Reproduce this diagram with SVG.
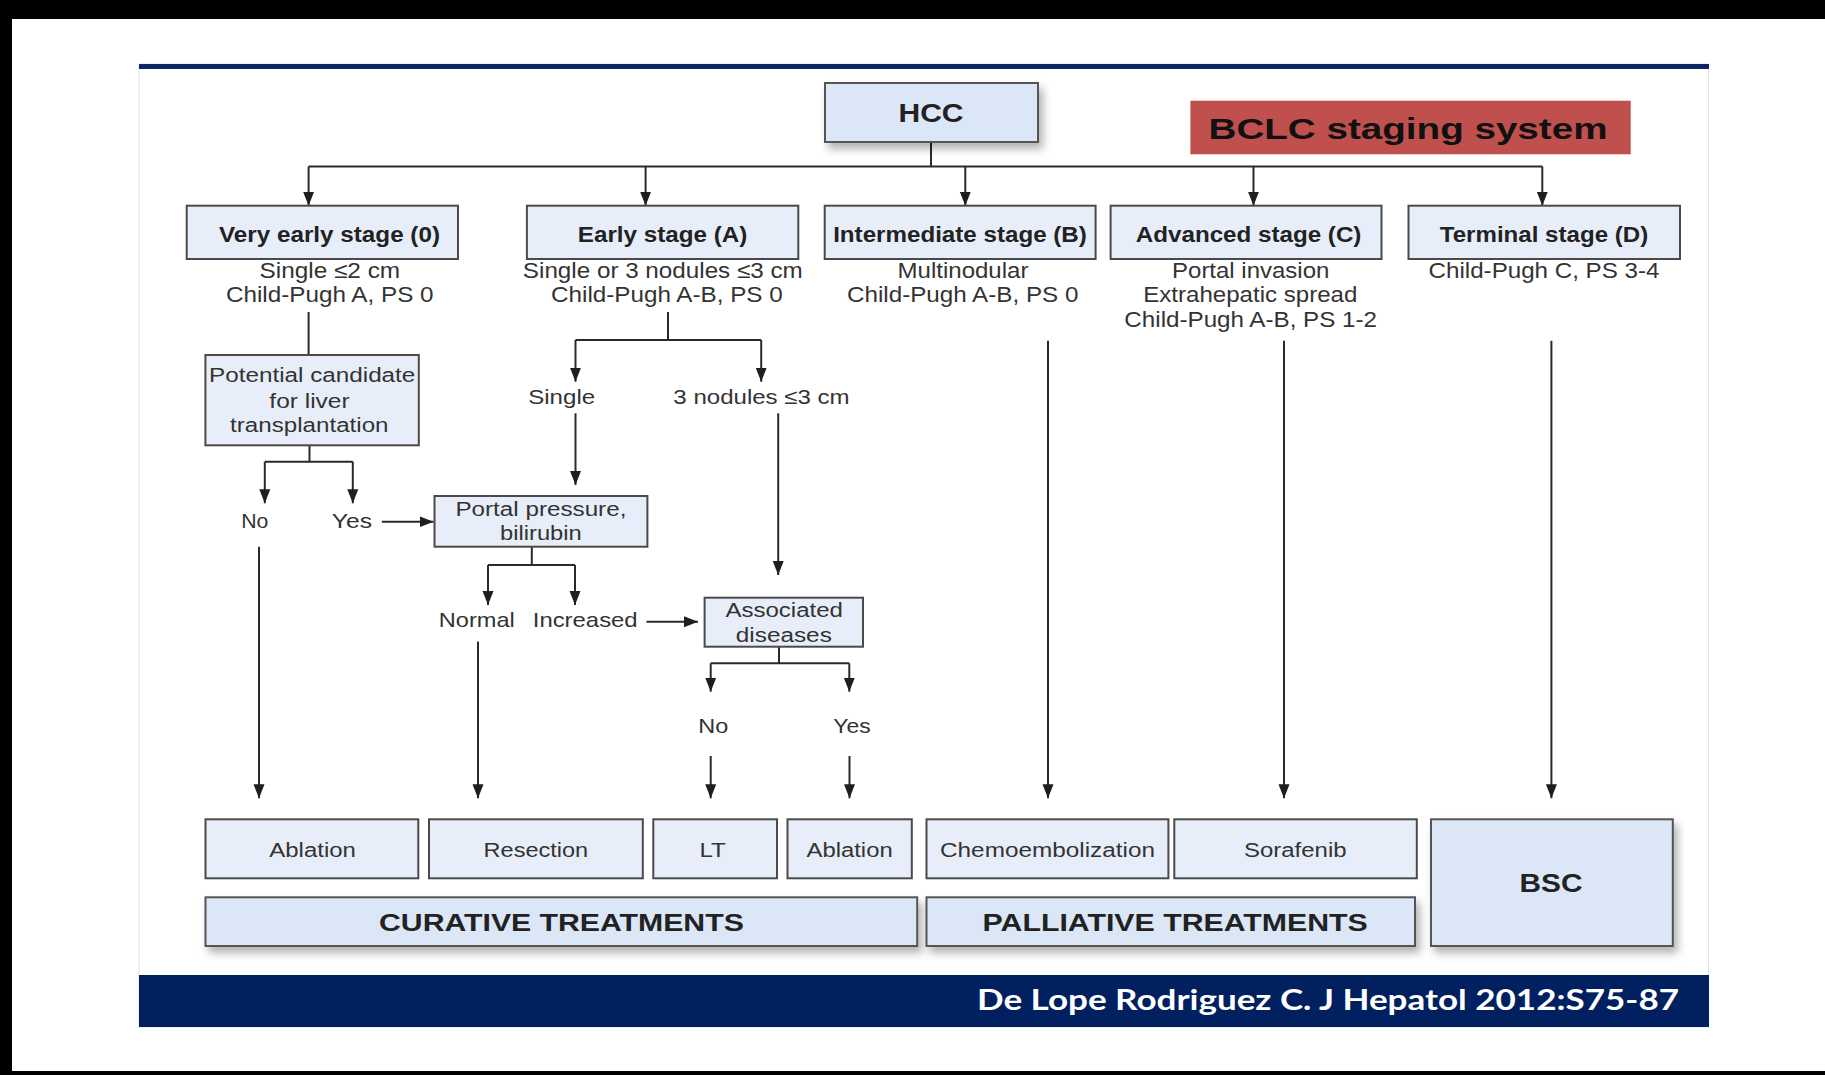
<svg xmlns="http://www.w3.org/2000/svg" width="1825" height="1075" viewBox="0 0 1825 1075">
<style>
.t{font-family:"Liberation Sans",Arial,sans-serif;fill:#333;text-anchor:middle}
.b{font-weight:bold;fill:#222}
.box{fill:#e7eef9;stroke:#4a4a4a;stroke-width:2}
.boxd{fill:#dbe6f6;stroke:#555;stroke-width:2}
.ln{stroke:#2a2a2a;stroke-width:2;fill:none}
.ar{stroke:#2a2a2a;stroke-width:2;fill:none;marker-end:url(#ah)}
</style>
<defs>
<marker id="ah" markerUnits="userSpaceOnUse" markerWidth="14" markerHeight="12" refX="14" refY="6" orient="auto">
<path d="M0,0.5 L14,6 L0,11.5 z" fill="#1e1e1e"/>
</marker>
<filter id="sh" x="-10%" y="-10%" width="130%" height="140%">
<feDropShadow dx="4" dy="6" stdDeviation="4" flood-color="#000" flood-opacity="0.3"/>
</filter>
</defs>
<rect x="0" y="0" width="1825" height="1075" fill="#fff"/>
<rect x="0" y="0" width="1825" height="19" fill="#000"/>
<rect x="0" y="0" width="12" height="1075" fill="#000"/>
<rect x="0" y="1071" width="1825" height="4" fill="#000"/>
<rect x="139" y="64" width="1569.5" height="963" fill="none" stroke="#dde1ea" stroke-width="1"/>
<rect x="139" y="64" width="1570" height="5" fill="#0d2766"/>
<rect x="139" y="975" width="1570" height="52" fill="#002060"/>
<text x="1679" y="1010" font-family="Lato,'Open Sans',sans-serif" font-weight="bold" font-size="29" fill="#fff" text-anchor="end" textLength="702" lengthAdjust="spacingAndGlyphs">De Lope Rodriguez C. J Hepatol 2012:S75-87</text>

<g id="connectors">
<path class="ln" d="M931,142 V166.5 M308.6,166.5 H1542.3"/>
<path class="ar" d="M308.6,166.5 V205.7"/>
<path class="ar" d="M645.6,166.5 V205.7"/>
<path class="ar" d="M965.3,166.5 V205.7"/>
<path class="ar" d="M1253.5,166.5 V205.7"/>
<path class="ar" d="M1542.3,166.5 V205.7"/>
<path class="ln" d="M308.6,312 V355"/>
<path class="ln" d="M309.5,445.3 V461.7 M264.8,461.7 H352.8"/>
<path class="ar" d="M264.8,461.7 V503.3"/>
<path class="ar" d="M352.8,461.7 V503.3"/>
<path class="ar" d="M381.8,521.7 H433.5"/>
<path class="ln" d="M668,312 V340 M575.5,340 H761.2"/>
<path class="ar" d="M575.5,340 V381.7"/>
<path class="ar" d="M761.2,340 V381.7"/>
<path class="ar" d="M575.5,413.3 V485"/>
<path class="ar" d="M778.2,413.3 V575"/>
<path class="ln" d="M531.8,546.7 V565 M488,565 H575"/>
<path class="ar" d="M488,565 V605"/>
<path class="ar" d="M575,565 V605"/>
<path class="ar" d="M646.5,621.7 H698"/>
<path class="ln" d="M779,646.7 V663.3 M710.7,663.3 H849.3"/>
<path class="ar" d="M710.7,663.3 V691.7"/>
<path class="ar" d="M849.3,663.3 V691.7"/>
<path class="ar" d="M710.7,756 V798.3"/>
<path class="ar" d="M849.5,756 V798.3"/>
<path class="ar" d="M259,546.7 V798.3"/>
<path class="ar" d="M478,641.5 V798.3"/>
<path class="ar" d="M1048,340.7 V798.3"/>
<path class="ar" d="M1284,340.7 V798.3"/>
<path class="ar" d="M1551.4,340.7 V798.3"/>
</g>

<g id="hcc">
<rect class="boxd" x="825" y="83" width="213" height="59" filter="url(#sh)"/>
<text class="t b" x="931" y="122.3" font-size="26" textLength="65" lengthAdjust="spacingAndGlyphs">HCC</text>
</g>
<g id="title">
<rect x="1190.4" y="100.7" width="440.3" height="53.6" fill="#c0504d"/>
<text class="t b" x="1408" y="139.3" font-size="29" fill="#111" style="fill:#111" textLength="399" lengthAdjust="spacingAndGlyphs">BCLC staging system</text>
</g>

<g id="stage0">
<rect class="box" x="186.7" y="205.7" width="271.3" height="53.3"/>
<text class="t b" x="329.5" y="241.7" font-size="22" textLength="221" lengthAdjust="spacingAndGlyphs">Very early stage (0)</text>
<text class="t" x="329.8" y="278.3" font-size="22" textLength="140.6" lengthAdjust="spacingAndGlyphs">Single ≤2 cm</text>
<text class="t" x="329.8" y="302.3" font-size="22" textLength="207.6" lengthAdjust="spacingAndGlyphs">Child-Pugh A, PS 0</text>
</g>
<g id="stageA">
<rect class="box" x="526.9" y="205.7" width="271.4" height="53.3"/>
<text class="t b" x="662.6" y="241.7" font-size="22" textLength="169.6" lengthAdjust="spacingAndGlyphs">Early stage (A)</text>
<text class="t" x="662.8" y="278.3" font-size="22" textLength="279.9" lengthAdjust="spacingAndGlyphs">Single or 3 nodules ≤3 cm</text>
<text class="t" x="666.9" y="302.3" font-size="22" textLength="231.7" lengthAdjust="spacingAndGlyphs">Child-Pugh A-B, PS 0</text>
</g>
<g id="stageB">
<rect class="box" x="824.7" y="205.7" width="270.9" height="53.3"/>
<text class="t b" x="960" y="241.7" font-size="22" textLength="253.7" lengthAdjust="spacingAndGlyphs">Intermediate stage (B)</text>
<text class="t" x="963" y="278.3" font-size="22" textLength="130.9" lengthAdjust="spacingAndGlyphs">Multinodular</text>
<text class="t" x="962.7" y="302.3" font-size="22" textLength="231.4" lengthAdjust="spacingAndGlyphs">Child-Pugh A-B, PS 0</text>
</g>
<g id="stageC">
<rect class="box" x="1110.6" y="205.7" width="270.9" height="53.3"/>
<text class="t b" x="1248.6" y="241.7" font-size="22" textLength="225.6" lengthAdjust="spacingAndGlyphs">Advanced stage (C)</text>
<text class="t" x="1250.7" y="278.3" font-size="22" textLength="157.3" lengthAdjust="spacingAndGlyphs">Portal invasion</text>
<text class="t" x="1250.3" y="302.3" font-size="22" textLength="214.1" lengthAdjust="spacingAndGlyphs">Extrahepatic spread</text>
<text class="t" x="1250.7" y="326.7" font-size="22" textLength="252.7" lengthAdjust="spacingAndGlyphs">Child-Pugh A-B, PS 1-2</text>
</g>
<g id="stageD">
<rect class="box" x="1408.5" y="205.7" width="271.5" height="53.3"/>
<text class="t b" x="1544" y="241.7" font-size="22" textLength="208.4" lengthAdjust="spacingAndGlyphs">Terminal stage (D)</text>
<text class="t" x="1544" y="278.3" font-size="22" textLength="230.8" lengthAdjust="spacingAndGlyphs">Child-Pugh C, PS 3-4</text>
</g>

<g id="candidate">
<rect class="box" x="205.4" y="355" width="213.4" height="90.3"/>
<text class="t" x="312.2" y="382.3" font-size="20" textLength="206.3" lengthAdjust="spacingAndGlyphs">Potential candidate</text>
<text class="t" x="309.5" y="407.7" font-size="20" textLength="80.3" lengthAdjust="spacingAndGlyphs">for liver</text>
<text class="t" x="309.3" y="431.7" font-size="20" textLength="158.5" lengthAdjust="spacingAndGlyphs">transplantation</text>
</g>
<g id="labels">
<text class="t" x="254.8" y="528.3" font-size="21" textLength="27.2" lengthAdjust="spacingAndGlyphs">No</text>
<text class="t" x="351.9" y="528.3" font-size="21" textLength="40.2" lengthAdjust="spacingAndGlyphs">Yes</text>
<text class="t" x="561.7" y="404" font-size="21" textLength="67" lengthAdjust="spacingAndGlyphs">Single</text>
<text class="t" x="761.5" y="404" font-size="21" textLength="176.3" lengthAdjust="spacingAndGlyphs">3 nodules ≤3 cm</text>
<text class="t" x="476.8" y="627.3" font-size="21" textLength="75.9" lengthAdjust="spacingAndGlyphs">Normal</text>
<text class="t" x="585.2" y="627.3" font-size="21" textLength="104.9" lengthAdjust="spacingAndGlyphs">Increased</text>
<text class="t" x="713.3" y="733.3" font-size="21" textLength="30" lengthAdjust="spacingAndGlyphs">No</text>
<text class="t" x="852" y="733.3" font-size="21" textLength="37.3" lengthAdjust="spacingAndGlyphs">Yes</text>
</g>
<g id="portal">
<rect class="box" x="434.5" y="496" width="212.9" height="50.7"/>
<text class="t" x="540.9" y="515.7" font-size="20" textLength="171" lengthAdjust="spacingAndGlyphs">Portal pressure,</text>
<text class="t" x="540.9" y="540" font-size="20" textLength="81.8" lengthAdjust="spacingAndGlyphs">bilirubin</text>
</g>
<g id="associated">
<rect class="box" x="704.6" y="597.7" width="158.4" height="49"/>
<text class="t" x="784.2" y="617.3" font-size="20" textLength="117.5" lengthAdjust="spacingAndGlyphs">Associated</text>
<text class="t" x="783.8" y="641.7" font-size="20" textLength="96" lengthAdjust="spacingAndGlyphs">diseases</text>
</g>

<g id="ablation1">
<rect class="box" x="205.5" y="819.3" width="212.8" height="59"/>
<text class="t" x="312.6" y="856.7" font-size="20" textLength="86.7" lengthAdjust="spacingAndGlyphs">Ablation</text>
</g>
<g id="resection">
<rect class="box" x="429" y="819.3" width="213.8" height="59"/>
<text class="t" x="535.9" y="856.7" font-size="20" textLength="104.6" lengthAdjust="spacingAndGlyphs">Resection</text>
</g>
<g id="lt">
<rect class="box" x="653.3" y="819.3" width="123.7" height="59"/>
<text class="t" x="712.7" y="856.7" font-size="20" textLength="26.5" lengthAdjust="spacingAndGlyphs">LT</text>
</g>
<g id="ablation2">
<rect class="box" x="787.5" y="819.3" width="124.3" height="59"/>
<text class="t" x="849.6" y="856.7" font-size="20" textLength="86.2" lengthAdjust="spacingAndGlyphs">Ablation</text>
</g>
<g id="chemo">
<rect class="box" x="926.5" y="819.3" width="241.9" height="59"/>
<text class="t" x="1047.5" y="856.7" font-size="20" textLength="215" lengthAdjust="spacingAndGlyphs">Chemoembolization</text>
</g>
<g id="sorafenib">
<rect class="box" x="1174.3" y="819.3" width="242.5" height="59"/>
<text class="t" x="1295.3" y="856.7" font-size="20" textLength="102.6" lengthAdjust="spacingAndGlyphs">Sorafenib</text>
</g>
<g id="bsc">
<rect class="boxd" x="1431" y="819.3" width="241.8" height="126.7" filter="url(#sh)"/>
<text class="t b" x="1551" y="892.3" font-size="25" textLength="63" lengthAdjust="spacingAndGlyphs">BSC</text>
</g>
<g id="curative">
<rect class="boxd" x="205.5" y="897.3" width="711.7" height="48.7" filter="url(#sh)"/>
<text class="t b" x="561.4" y="930.5" font-size="23.5" textLength="364.8" lengthAdjust="spacingAndGlyphs">CURATIVE TREATMENTS</text>
</g>
<g id="palliative">
<rect class="boxd" x="926.5" y="897.3" width="488.5" height="48.7" filter="url(#sh)"/>
<text class="t b" x="1175.2" y="931" font-size="23.5" textLength="385.2" lengthAdjust="spacingAndGlyphs">PALLIATIVE TREATMENTS</text>
</g>
</svg>
